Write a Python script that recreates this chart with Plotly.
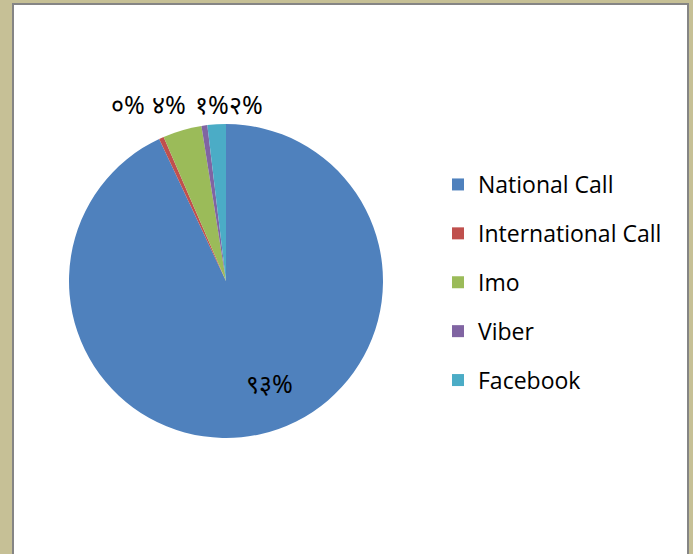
import plotly.graph_objects as go

labels = ["National Call", "International Call", "Imo", "Viber", "Facebook"]
values = [93.0, 0.5, 4.0, 0.6, 1.9]
pct_text = ["९३%", "०%", "४%", "१%", "२%"]
colors = ["#4F81BD", "#C0504D", "#9BBB59", "#8064A2", "#4BACC6"]

# label placement (pixels in the 693x554 canvas)
label_px = [(269, 383), (128, 104), (169, 104), (212, 104), (246, 104)]

W, H = 693, 554
fig = go.Figure()

cx, cy, r = 226, 281, 157
fig.add_trace(go.Pie(
    labels=labels, values=values,
    textinfo="none",
    sort=False, direction="clockwise", rotation=0,
    marker=dict(colors=colors, line=dict(width=0)),
    showlegend=False, hoverinfo="label+percent",
    domain=dict(x=[(cx - r) / W, (cx + r) / W], y=[(H - cy - r) / H, (H - cy + r) / H]),
))

for i, (lab, col) in enumerate(zip(labels, colors)):
    fig.add_trace(go.Scatter(
        x=[None], y=[None], mode="markers", name=lab,
        marker=dict(symbol="square", size=12, color=col),
        legendgroup=f"g{i}", showlegend=True,
    ))

annotations = [
    dict(text=t, x=px / W, y=1 - py / H, xref="paper", yref="paper",
         showarrow=False, xanchor="center", yanchor="middle",
         font=dict(size=25, color="black", family="Noto Sans, DejaVu Sans"))
    for t, (px, py) in zip(pct_text, label_px)
]

fig.update_layout(
    width=W, height=H,
    margin=dict(l=0, r=0, t=0, b=0),
    paper_bgcolor="#C6C096",
    plot_bgcolor="rgba(0,0,0,0)",
    xaxis=dict(visible=False), yaxis=dict(visible=False),
    legend=dict(x=438 / W, y=1 - 163 / H, xanchor="left", yanchor="top",
                font=dict(family="Open Sans, Lato, sans-serif", size=23, color="#000"),
                tracegroupgap=16, bgcolor="rgba(0,0,0,0)", itemwidth=30),
    annotations=annotations,
    shapes=[dict(type="rect", xref="paper", yref="paper",
                 x0=13 / W, x1=688 / W, y0=-0.01, y1=1 - 4 / H,
                 fillcolor="white", line=dict(color="#858585", width=2), layer="below")],
)

fig.write_html("out.html", config={"displayModeBar": False},
               post_script="document.body.style.margin='0';document.body.style.padding='0';")
